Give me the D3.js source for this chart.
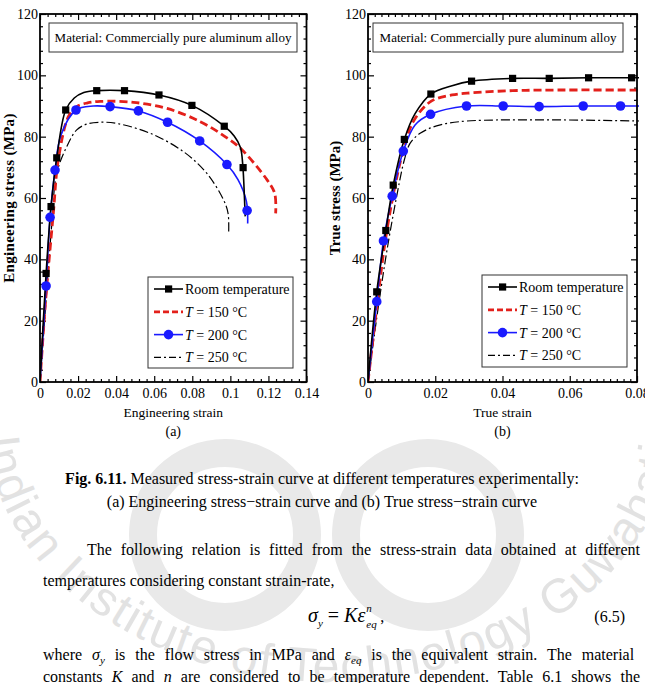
<!DOCTYPE html>
<html><head><meta charset="utf-8">
<script src="https://cdn.jsdelivr.net/npm/d3@7"></script>
<style>
body{margin:0;background:#fff}
svg{display:block}
text{font-family:"Liberation Serif","Times New Roman",serif;fill:#000}
</style>
</head><body>
<svg id="c" width="645" height="683"></svg>
<script>
// ---------- DATA ----------
// (a) engineering stress-strain [strain, stress MPa]
const engRoom = [[0,0],[0.0032,35.4],[0.0058,57.2],[0.0088,73.1],[0.0135,88.7],[0.018,92.6],[0.023,94.4],[0.0298,95.0],[0.0444,95.0],[0.0625,93.6],[0.0798,90.2],[0.0968,83.4],[0.102,80.2],[0.1053,76.5],[0.1066,70],[0.1074,60],[0.1078,54]];
const engRoomMarks = [[0.0032,35.4],[0.0058,57.2],[0.0088,73.1],[0.0135,88.7],[0.0298,95.0],[0.0444,95.0],[0.0625,93.6],[0.0798,90.2],[0.0968,83.4],[0.1067,69.9]];
const engT150 = [[0,0],[0.003,27],[0.007,55],[0.0096,72.4],[0.0149,86.5],[0.0193,89.8],[0.025,91.0],[0.0316,91.5],[0.0491,91.2],[0.0667,89.2],[0.0842,84.9],[0.0968,80.2],[0.1053,76.2],[0.1193,65.9],[0.1233,61.5],[0.1238,55]];
const engT200 = [[0,0],[0.0032,31.3],[0.0053,53.7],[0.0079,69.1],[0.011,80.5],[0.0189,88.7],[0.028,90.0],[0.0368,89.8],[0.0517,88.4],[0.067,84.7],[0.0839,78.6],[0.0982,70.9],[0.104,66],[0.1084,59],[0.1091,51.7]];
const engT200Marks = [[0.0032,31.3],[0.0053,53.7],[0.0079,69.1],[0.0189,88.7],[0.0368,89.8],[0.0517,88.4],[0.067,84.7],[0.0839,78.6],[0.0982,70.9],[0.1088,55.9]];
const engT250 = [[0,0],[0.003,25],[0.006,50],[0.0088,68],[0.014,76.7],[0.0193,82.2],[0.0246,84.1],[0.0316,84.7],[0.0404,84.3],[0.0579,81.1],[0.0754,75.1],[0.0877,68.0],[0.0965,59.3],[0.0988,55],[0.0991,48.5]];

// (b) true stress-strain
const trueRoom = [[0,0],[0.0026,29.4],[0.0053,49.4],[0.0075,64.2],[0.0108,79.1],[0.014,87.5],[0.0187,93.9],[0.025,96.6],[0.0308,98.1],[0.043,99.0],[0.0539,99.0],[0.0656,99.2],[0.0784,99.2],[0.081,99.2]];
const trueRoomMarks = [[0.0026,29.4],[0.0053,49.4],[0.0075,64.2],[0.0108,79.1],[0.0187,93.9],[0.0308,98.1],[0.043,99.0],[0.0539,99.0],[0.0656,99.2],[0.0784,99.2]];
const trueT150 = [[0,0],[0.003,28],[0.005,45],[0.0075,61],[0.0105,75.5],[0.0135,85],[0.0187,91.5],[0.025,93.6],[0.0308,94.3],[0.043,95.0],[0.055,95.2],[0.081,95.2]];
const trueT200 = [[0,0],[0.0026,26.2],[0.0046,46.0],[0.0072,60.6],[0.0105,75.3],[0.014,83.8],[0.0186,87.3],[0.0293,90.0],[0.0402,90.0],[0.0509,89.8],[0.064,90.0],[0.0751,90.0],[0.081,90.0]];
const trueT200Marks = [[0.0026,26.2],[0.0046,46.0],[0.0072,60.6],[0.0105,75.3],[0.0186,87.3],[0.0293,90.0],[0.0402,90.0],[0.0509,89.8],[0.064,90.0],[0.0751,90.0]];
const trueT250 = [[0,0],[0.003,24],[0.0055,42],[0.0085,60.4],[0.0108,72.4],[0.0125,77.8],[0.0155,81.1],[0.0204,83.5],[0.0293,85.1],[0.081,85.1]];

// ticks
const engStrainTicks = [0,0.02,0.04,0.06,0.08,0.1,0.12,0.14];
const trueStrainTicks = [0,0.02,0.04,0.06,0.08];
const stressTicks = [0,20,40,60,80,100,120];
const legendLabels = ["Room temperature","150 °C","200 °C","250 °C"];

// ---------- DRAW ----------
const svg = d3.select("#c");

// watermark (faint logo)
(function(){
  const wm = svg.append("g").attr("fill","none");
  wm.append("circle").attr("cx",225).attr("cy",535).attr("r",82).attr("stroke","#e9e9e9").attr("stroke-width",28);
  wm.append("circle").attr("cx",428).attr("cy",535).attr("r",82).attr("stroke","#e9e9e9").attr("stroke-width",28);
  const cx=330, cy=420, rx=345, ry=262;
  const pts = d3.range(200,-10,-2).map(t=>[cx+rx*Math.cos(t*Math.PI/180), cy+ry*Math.sin(t*Math.PI/180)]);
  wm.append("path").attr("id","wmp").attr("d",d3.line()(pts));
  wm.append("text").style("font-family","'Liberation Sans',Arial,sans-serif").style("font-size","48px")
    .style("fill","#e2e2e2").style("letter-spacing","2px")
    .append("textPath").attr("href","#wmp").attr("startOffset",110)
    .text("Indian Institute of Technology Guwahati");
})();

const seriesStyle = {
  room:{stroke:"#000",width:1.6,dash:null},
  t150:{stroke:"#e3201b",width:2.8,dash:"8,4"},
  t200:{stroke:"#1a1aff",width:1.6,dash:null},
  t250:{stroke:"#000",width:1.2,dash:"9,3,2,3"}
};

function panel(o){
  const x = d3.scaleLinear().domain(o.xd).range([o.x0,o.x1]);
  const y = d3.scaleLinear().domain([0,120]).range([382,14]);
  const g = svg.append("g");
  const fmt = d=> (+d.toFixed(3)).toString();
  const minorX = d3.range(0, o.xd[1]+1e-9, o.xMinor).map(v=>+v.toFixed(4)).filter(v=>!o.xTicks.some(t=>Math.abs(t-v)<1e-6));
  const minorY = d3.range(0,120.001,4).filter(v=>v%20!==0);
  const axes = [
    [d3.axisBottom(x).tickValues(o.xTicks).tickSize(-6).tickPadding(6).tickFormat(fmt), `translate(0,382)`],
    [d3.axisBottom(x).tickValues(minorX).tickSize(-3).tickFormat(""), `translate(0,382)`],
    [d3.axisTop(x).tickValues(o.xTicks).tickSize(-6).tickFormat(""), `translate(0,14)`],
    [d3.axisTop(x).tickValues(minorX).tickSize(-3).tickFormat(""), `translate(0,14)`],
    [d3.axisLeft(y).tickValues(stressTicks).tickSize(-6).tickPadding(2).tickFormat(fmt), `translate(${o.x0},0)`],
    [d3.axisLeft(y).tickValues(minorY).tickSize(-3).tickFormat(""), `translate(${o.x0},0)`],
    [d3.axisRight(y).tickValues(stressTicks).tickSize(-6).tickFormat(""), `translate(${o.x1},0)`],
    [d3.axisRight(y).tickValues(minorY).tickSize(-3).tickFormat(""), `translate(${o.x1},0)`]
  ];
  axes.forEach(([ax,tr])=>{
    const a = g.append("g").attr("transform",tr).call(ax);
    a.select(".domain").remove();
    a.selectAll("line").attr("stroke","#000").attr("stroke-width",1.2);
    a.selectAll("text").style("font-family","'Liberation Serif',serif").style("font-size","14px").attr("fill","#000");
  });

  const cid = "clip"+o.id;
  svg.append("clipPath").attr("id",cid).append("rect").attr("x",o.x0).attr("y",10).attr("width",o.x1-o.x0+2).attr("height",372);
  const line = d3.line().x(d=>x(d[0])).y(d=>y(d[1])).curve(d3.curveCatmullRom.alpha(0.5));
  const pg = g.append("g").attr("clip-path",`url(#${cid})`);
  [["t250",o.t250],["t150",o.t150],["t200",o.t200],["room",o.room]].forEach(([k,data])=>{
    const s=seriesStyle[k];
    pg.append("path").datum(data).attr("d",line).attr("fill","none").attr("stroke",s.stroke)
      .attr("stroke-width",s.width).attr("stroke-dasharray",s.dash).attr("stroke-linejoin","round");
  });
  g.append("g").selectAll("rect").data(o.roomMarks).join("rect")
    .attr("x",d=>x(d[0])-3.6).attr("y",d=>y(d[1])-3.6).attr("width",7.2).attr("height",7.2).attr("fill","#000");
  g.append("g").selectAll("circle").data(o.t200Marks).join("circle")
    .attr("cx",d=>x(d[0])).attr("cy",d=>y(d[1])).attr("r",4.8).attr("fill","#1a1aff");

  g.append("rect").attr("x",o.x0).attr("y",14).attr("width",o.x1-o.x0).attr("height",368)
    .attr("fill","none").attr("stroke","#000").attr("stroke-width",1.8);

  g.append("rect").attr("x",o.mb[0]).attr("y",23).attr("width",o.mb[1]-o.mb[0]).attr("height",29)
    .attr("fill","#fff").attr("stroke","#333").attr("stroke-width",1);
  g.append("text").attr("x",(o.mb[0]+o.mb[1])/2).attr("y",42).attr("text-anchor","middle")
    .style("font-size","13px").text("Material: Commercially pure aluminum alloy");

  const L = o.leg;
  g.append("rect").attr("x",L.x0).attr("y",L.y0).attr("width",L.x1-L.x0).attr("height",L.y1-L.y0)
    .attr("fill","#fff").attr("stroke","#333").attr("stroke-width",1);
  const keys=["room","t150","t200","t250"];
  keys.forEach((k,i)=>{
    const yy = L.y0+12+i*22.8, s=seriesStyle[k];
    g.append("line").attr("x1",L.x0+6).attr("x2",L.x0+35).attr("y1",yy).attr("y2",yy)
      .attr("stroke",s.stroke).attr("stroke-width",s.width).attr("stroke-dasharray",k==="t150"?"6,3":(k==="t250"?"7,3,2,3":null));
    if(k==="room") g.append("rect").attr("x",L.x0+17).attr("y",yy-3.6).attr("width",7.2).attr("height",7.2).attr("fill","#000");
    if(k==="t200") g.append("circle").attr("cx",L.x0+20.5).attr("cy",yy).attr("r",4.8).attr("fill","#1a1aff");
    const t = g.append("text").attr("x",L.x0+37).attr("y",yy+5).style("font-size","14px");
    if(i===0) t.text(legendLabels[0]);
    else { t.append("tspan").style("font-style","italic").text("T"); t.append("tspan").text(" = "+legendLabels[i]); }
  });

  g.append("text").attr("x",(o.x0+o.x1)/2).attr("y",417).attr("text-anchor","middle").style("font-size","13.5px").text(o.xTitle);
  g.append("text").attr("x",(o.x0+o.x1)/2).attr("y",436).attr("text-anchor","middle").style("font-size","14px").text(o.tag);
  g.append("text").attr("transform",`translate(${o.yTx},198) rotate(-90)`).attr("text-anchor","middle")
    .style("font-size","15px").style("font-weight","bold").style("letter-spacing",o.ls).text(o.yTitle);
}

panel({id:"a",xd:[0,0.14],x0:40,x1:306.5,xTicks:engStrainTicks,xMinor:0.004,
  room:engRoom,roomMarks:engRoomMarks,t150:engT150,t200:engT200,t200Marks:engT200Marks,t250:engT250,
  mb:[49,297],leg:{x0:148,x1:293,y0:277,y1:368},xTitle:"Engineering strain",tag:"(a)",yTitle:"Engineering stress (MPa)",yTx:14,ls:"0.3px"});
panel({id:"b",xd:[0,0.08],x0:368,x1:637,xTicks:trueStrainTicks,xMinor:0.002,
  room:trueRoom,roomMarks:trueRoomMarks,t150:trueT150,t200:trueT200,t200Marks:trueT200Marks,t250:trueT250,
  mb:[373,623],leg:{x0:482,x1:627,y0:275,y1:367},xTitle:"True strain",tag:"(b)",yTitle:"True stress (MPa)",yTx:340,ls:"0px"});

// ---------- caption & body text ----------
const cap1 = svg.append("text").attr("x",322).attr("y",484).attr("text-anchor","middle").style("font-size","16px");
cap1.append("tspan").style("font-weight","bold").text("Fig. 6.11.");
cap1.append("tspan").text(" Measured stress-strain curve at different temperatures experimentally:");
svg.append("text").attr("x",322).attr("y",507).attr("text-anchor","middle").style("font-size","16px")
  .text("(a) Engineering stress\u2212strain curve and (b) True stress\u2212strain curve");

function justify(t, target){
  const n = t.node(); const len = n.getComputedTextLength();
  const spaces = (n.textContent.match(/ /g)||[]).length;
  if(spaces) t.style("word-spacing", ((target-len)/spaces)+"px");
}
const p1 = svg.append("text").attr("x",87).attr("y",555).style("font-size","16px")
  .text("The following relation is fitted from the stress-strain data obtained at different");
justify(p1, 553);
svg.append("text").attr("x",43).attr("y",586).style("font-size","16px").text("temperatures considering constant strain-rate,");

// equation
const eq = svg.append("text").attr("x",308).attr("y",622).style("font-size","20px");
eq.append("tspan").style("font-style","italic").text("\u03c3");
eq.append("tspan").attr("dy",5).style("font-size","11px").style("font-style","italic").text("y");
eq.append("tspan").attr("dy",-5).text(" = ");
eq.append("tspan").style("font-style","italic").text("K\u03b5");
const eqEnd = 308 + eq.node().getComputedTextLength();
svg.append("text").attr("x",eqEnd+1).attr("y",612).style("font-size","11px").style("font-style","italic").text("n");
svg.append("text").attr("x",eqEnd+1).attr("y",628).style("font-size","11px").style("font-style","italic").text("eq");
svg.append("text").attr("x",eqEnd+15).attr("y",622).style("font-size","16px").text(",");
svg.append("text").attr("x",625).attr("y",622).attr("text-anchor","end").style("font-size","16px").text("(6.5)");

const p4 = svg.append("text").attr("x",43).attr("y",660).style("font-size","16px");
p4.append("tspan").text("where ");
p4.append("tspan").style("font-style","italic").text("\u03c3");
p4.append("tspan").attr("dy",4).style("font-size","11px").style("font-style","italic").text("y");
p4.append("tspan").attr("dy",-4).text("  is the flow stress in MPa and ");
p4.append("tspan").style("font-style","italic").text("\u03b5");
p4.append("tspan").attr("dy",4).style("font-size","11px").style("font-style","italic").text("eq");
p4.append("tspan").attr("dy",-4).text(" is the equivalent strain. The material");
justify(p4, 597);
const p5 = svg.append("text").attr("x",43).attr("y",682).style("font-size","16px");
p5.append("tspan").text("constants ");
p5.append("tspan").style("font-style","italic").text("K");
p5.append("tspan").text(" and ");
p5.append("tspan").style("font-style","italic").text("n");
p5.append("tspan").text(" are considered to be temperature dependent. Table 6.1 shows the");
justify(p5, 597);
</script>
</body></html>
